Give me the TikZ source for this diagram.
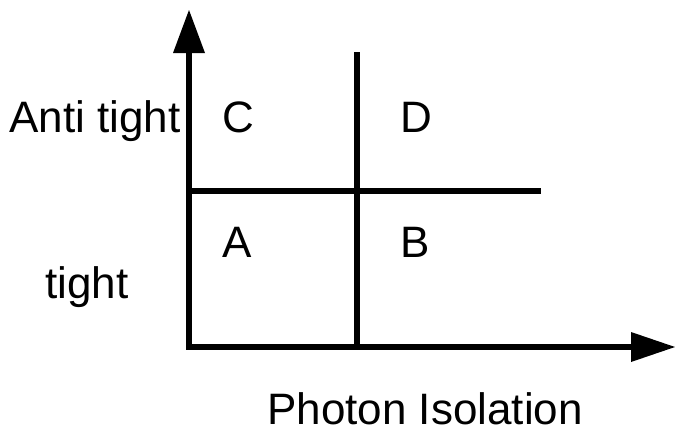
\documentclass[tikz,border=0pt]{standalone}
\usepackage{fontspec}
\setmainfont{Liberation Sans}
\begin{document}
\begin{tikzpicture}[x=1pt,y=-1pt,
  axis/.style={line width=5.5pt},
  head/.style={fill=black},
  lbl/.style={font=\fontsize{44}{50}\selectfont, inner sep=0pt, anchor=base}]
\useasboundingbox (0,0) rectangle (675,426);
\coordinate (O) at (189,347);
\coordinate (Ytop) at (189,52);
\coordinate (Xend) at (632,347);
\coordinate (Vtop) at (357,52);
\coordinate (Vbot) at (357,347);
\coordinate (Hl) at (189,191);
\coordinate (Hr) at (541,191);
\draw[axis] (Ytop) -- (O) -- (Xend);
\draw[axis] (Vtop) -- (Vbot);
\draw[axis] (Hl) -- (Hr);
\fill[head] (189,10) -- (205,53) -- (173,53) -- cycle;
\fill[head] (675,347) -- (631,362) -- (631,332) -- cycle;
\node[lbl] (antitight) at (95,132) {Anti tight};
\node[lbl] (C) at (238,132) {C};
\node[lbl] (D) at (416,132) {D};
\node[lbl] (A) at (237,257) {A};
\node[lbl] (B) at (415,257) {B};
\node[lbl] (tight) at (87,298) {tight};
\node[lbl] (photon) at (425,424) {Photon Isolation};
\end{tikzpicture}
\end{document}
